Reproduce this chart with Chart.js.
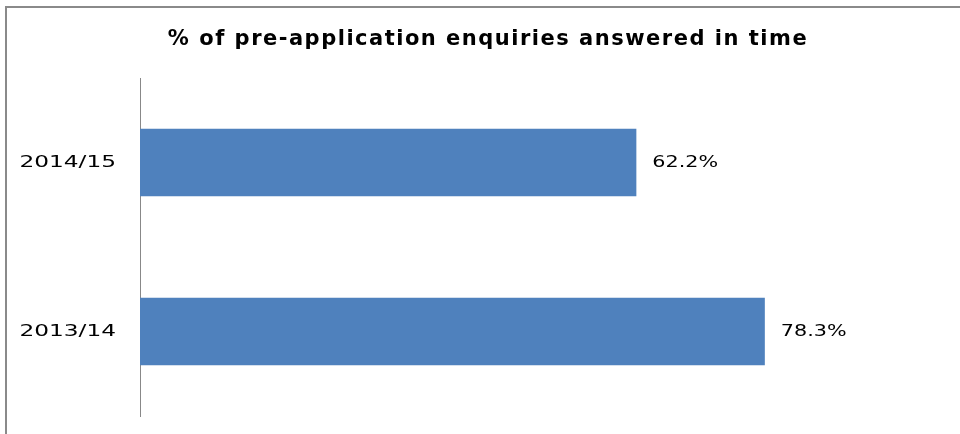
<!DOCTYPE html>
<html>
<head>
<meta charset="utf-8">
<script src="https://cdn.jsdelivr.net/npm/chart.js@4"></script>
<style>
  html, body { margin: 0; padding: 0; background: #fff; }
  #wrap { position: relative; width: 960px; height: 434px; }
  #frame {
    position: absolute; left: 5px; top: 6px; right: 0; bottom: 0;
    border-top: 2px solid #8a8a8a; border-left: 2px solid #8a8a8a;
    pointer-events: none;
  }
  canvas { position: absolute; left: 0; top: 0; }
</style>
</head>
<body>
<div id="wrap">
  <canvas id="chart" width="960" height="434"></canvas>
  <div id="frame"></div>
</div>
<script>
const chartTitle = '% of pre-application enquiries answered in time';
const years = ['2014/15', '2013/14'];
const answeredInTime = [62.2, 78.3];

// wide text: draw with a horizontal stretch
function wideText(ctx, text, x, y, sx, align) {
  ctx.save();
  ctx.translate(x, y);
  ctx.scale(sx, 1);
  ctx.textAlign = align;
  ctx.fillText(text, 0, 0);
  ctx.restore();
}

const chartText = {
  id: 'chartText',
  afterDraw(chart) {
    const ctx = chart.ctx;
    ctx.save();
    ctx.fillStyle = '#000';
    ctx.textBaseline = 'middle';

    ctx.letterSpacing = '1.5px';
    ctx.font = 'bold 21px "DejaVu Sans"';
    ctx.textAlign = 'center';
    ctx.fillText(chartTitle, 488, 40);
    ctx.letterSpacing = '0px';

    // category labels along the y axis
    const yScale = chart.scales.y;
    ctx.font = '15px "DejaVu Sans"';
    years.forEach(function (label, i) {
      wideText(ctx, label, yScale.right - 24, yScale.getPixelForTick(i) + 1, 1.55, 'right');
    });

    // value labels at the end of each bar
    chart.getDatasetMeta(0).data.forEach(function (bar, i) {
      wideText(ctx, answeredInTime[i].toFixed(1) + '%', bar.x + 16, bar.y + 1, 1.38, 'left');
    });
    ctx.restore();
  }
};

new Chart(document.getElementById('chart'), {
  type: 'bar',
  data: {
    labels: years,
    datasets: [{
      data: answeredInTime,
      backgroundColor: '#4F81BD',
      categoryPercentage: 0.8,
      barPercentage: 0.5
    }]
  },
  options: {
    indexAxis: 'y',
    responsive: false,
    animation: false,
    layout: { padding: { top: 78, bottom: 18, right: 22, left: 0 } },
    plugins: {
      legend: { display: false },
      title: { display: false },
      tooltip: { enabled: false }
    },
    scales: {
      x: { display: false, min: 0, max: 100 },
      y: {
        afterFit: function (scale) { scale.width = 140; },
        grid: { display: false, drawTicks: false },
        border: { display: true, color: '#888888', width: 1 },
        ticks: { display: false }
      }
    }
  },
  plugins: [chartText]
});
</script>
</body>
</html>
